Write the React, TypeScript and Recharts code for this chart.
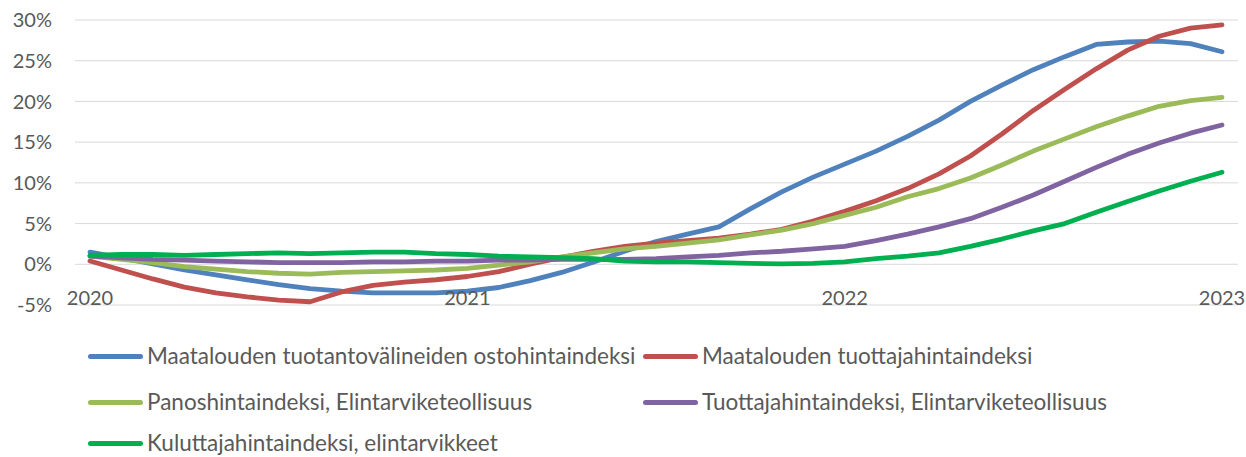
import React from 'react';
import { LineChart, Line, XAxis, YAxis, CartesianGrid, Legend } from 'recharts';

// monthly, Jan 2020 .. Jan 2023
const months = [
  '2020-01', '2020-02', '2020-03', '2020-04', '2020-05', '2020-06', '2020-07', '2020-08', '2020-09', '2020-10', '2020-11', '2020-12',
  '2021-01', '2021-02', '2021-03', '2021-04', '2021-05', '2021-06', '2021-07', '2021-08', '2021-09', '2021-10', '2021-11', '2021-12',
  '2022-01', '2022-02', '2022-03', '2022-04', '2022-05', '2022-06', '2022-07', '2022-08', '2022-09', '2022-10', '2022-11', '2022-12',
  '2023-01',
];

const yearTicks = ['2020-01', '2021-01', '2022-01', '2023-01'];
const yTicks = [-5, 0, 5, 10, 15, 20, 25, 30];

const ostohinta = [
  1.5, 0.8, 0.05, -0.7, -1.3, -1.9, -2.5, -3.0, -3.3, -3.5, -3.5, -3.5,
  -3.3, -2.85, -2.0, -1.0, 0.25, 1.6, 2.8, 3.7, 4.6, 6.8, 8.9, 10.7,
  12.3, 13.9, 15.7, 17.7, 20.0, 22.0, 23.9, 25.5, 27.0, 27.3, 27.4, 27.1,
  26.1,
];
const tuottajahinta = [
  0.4, -0.7, -1.8, -2.8, -3.5, -4.0, -4.4, -4.6, -3.4, -2.6, -2.2, -1.9,
  -1.5, -0.9, 0.0, 0.85, 1.6, 2.2, 2.6, 2.9, 3.2, 3.7, 4.3, 5.3,
  6.5, 7.8, 9.3, 11.1, 13.3, 16.0, 18.9, 21.5, 24.0, 26.3, 28.0, 29.0,
  29.4,
];
const panoshinta = [
  1.0, 0.6, 0.2, -0.3, -0.6, -0.9, -1.1, -1.2, -1.0, -0.9, -0.8, -0.7,
  -0.5, -0.1, 0.3, 0.9, 1.4, 1.9, 2.2, 2.6, 3.0, 3.6, 4.2, 5.0,
  6.0, 7.0, 8.3, 9.3, 10.6, 12.2, 13.9, 15.4, 16.9, 18.2, 19.4, 20.1,
  20.5,
];
const tuottajaElintarvike = [
  1.0, 0.8, 0.6, 0.5, 0.4, 0.3, 0.2, 0.2, 0.2, 0.3, 0.3, 0.4,
  0.4, 0.5, 0.5, 0.6, 0.6, 0.6, 0.7, 0.9, 1.1, 1.4, 1.6, 1.9,
  2.2, 2.9, 3.7, 4.6, 5.6, 7.0, 8.5, 10.2, 11.9, 13.5, 14.9, 16.1,
  17.1,
];
const kuluttajahinta = [
  1.1, 1.2, 1.2, 1.1, 1.2, 1.3, 1.4, 1.3, 1.4, 1.5, 1.5, 1.3,
  1.2, 1.0, 0.9, 0.8, 0.7, 0.4, 0.3, 0.3, 0.2, 0.1, 0.05, 0.1,
  0.3, 0.7, 1.0, 1.4, 2.2, 3.1, 4.1, 5.0, 6.4, 7.7, 9.0, 10.2,
  11.3,
];

const series = [
  { key: 'a', name: 'Maatalouden tuotantovälineiden ostohintaindeksi', color: '#4F81BD', values: ostohinta },
  { key: 'b', name: 'Maatalouden tuottajahintaindeksi', color: '#C0504D', values: tuottajahinta },
  { key: 'c', name: 'Panoshintaindeksi, Elintarviketeollisuus', color: '#9BBB59', values: panoshinta },
  { key: 'd', name: 'Tuottajahintaindeksi, Elintarviketeollisuus', color: '#8064A2', values: tuottajaElintarvike },
  { key: 'e', name: 'Kuluttajahintaindeksi, elintarvikkeet', color: '#00B050', values: kuluttajahinta },
];

const data = months.map((m, i) => {
  const row: Record<string, string | number> = { m };
  series.forEach((s) => { row[s.key] = s.values[i]; });
  return row;
});

const FONT = 'Lato, "Open Sans", sans-serif';
const TEXT = '#595959';

// legend slots: [left, centerY] relative to legend box
const legendPos = [
  [88, 41], [643, 41],
  [88, 87], [643, 87],
  [88, 128],
];

const LegendBox = () => (
  <div style={{ position: 'relative', width: 1246, height: 137 }}>
    {series.map((s, i) => (
      <div
        key={s.key}
        style={{
          position: 'absolute',
          left: legendPos[i][0],
          top: legendPos[i][1] - 14,
          height: 28,
          display: 'flex',
          alignItems: 'center',
          whiteSpace: 'nowrap',
        }}
      >
        <span style={{ display: 'inline-block', width: 55, height: 5, borderRadius: 3, background: s.color, marginRight: 4 }} />
        <span style={{ fontFamily: FONT, fontSize: 22.5, lineHeight: '28px', color: TEXT }}>{s.name}</span>
      </div>
    ))}
  </div>
);

const YearTick = (props: any) => {
  const { x, y, payload } = props;
  return (
    <text x={x} y={y - 8} textAnchor="middle" dominantBaseline="central" fill={TEXT} fontFamily={FONT} fontSize={20}>
      {String(payload.value).slice(0, 4)}
    </text>
  );
};

export default function App() {
  return (
    <div style={{ position: 'absolute', left: 0, top: 0, width: 1246, height: 457, background: '#fff' }}>
      <LineChart width={1246} height={457} data={data} margin={{ top: 20, right: 8, bottom: 5, left: 0 }}>
        <CartesianGrid vertical={false} stroke="#D9D9D9" strokeWidth={1} />
        <XAxis
          dataKey="m"
          ticks={yearTicks}
          interval={0}
          axisLine={false}
          tickLine={false}
          tickSize={0}
          tickMargin={0}
          height={10}
          padding={{ left: 15, right: 16 }}
          tick={YearTick}
        />
        <YAxis
          domain={[-5, 30]}
          ticks={yTicks}
          width={75}
          axisLine={false}
          tickLine={false}
          tickSize={0}
          tickMargin={23}
          tickFormatter={(v: number) => `${v}%`}
          tick={{ fill: TEXT, fontFamily: FONT, fontSize: 20 }}
        />
        <Legend verticalAlign="bottom" align="left" content={() => <LegendBox />} />
        {series.map((s) => (
          <Line
            key={s.key}
            type="linear"
            dataKey={s.key}
            name={s.name}
            stroke={s.color}
            strokeWidth={4.8}
            strokeLinecap="round"
            strokeLinejoin="round"
            dot={false}
            activeDot={false}
            isAnimationActive={false}
          />
        ))}
      </LineChart>
    </div>
  );
}
